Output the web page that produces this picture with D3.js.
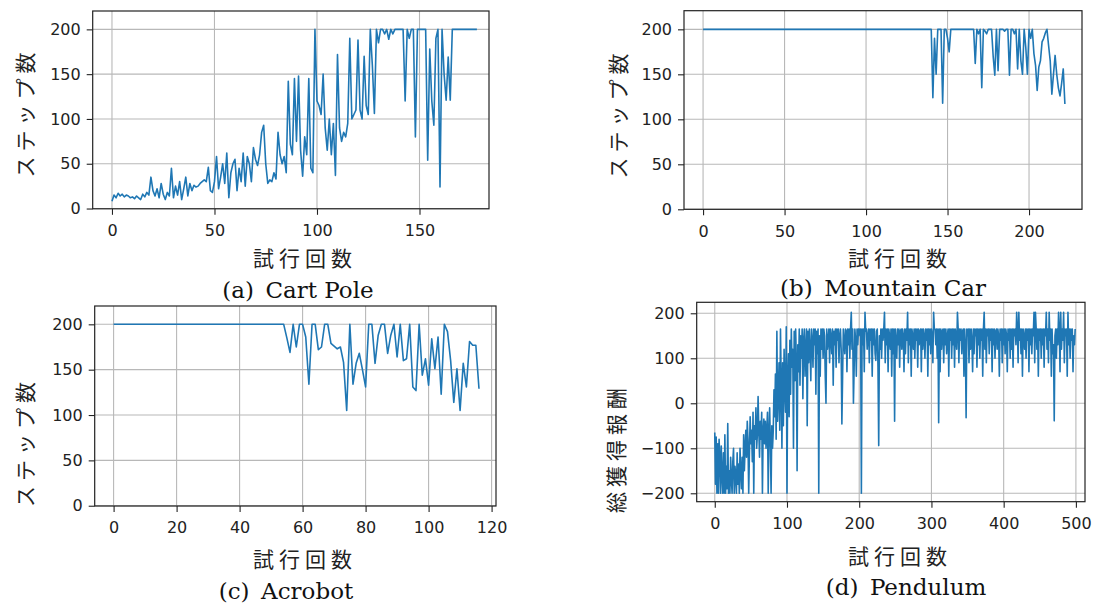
<!DOCTYPE html>
<html><head><meta charset="utf-8">
<script src="https://cdn.jsdelivr.net/npm/d3@7"></script>
<style>body{margin:0;background:#fff}svg{display:block}</style>
</head><body>
<svg id="chart" width="1095" height="603"></svg>
<script>
// ---------- data ----------
const cartPoleSteps=[8,15,12,17,14,16,13,15,14,12,
13,11,14,12,10,16,13,18,15,35,
20,14,22,12,28,16,10,18,14,45,
12,25,15,30,10,22,35,14,28,20,
26,24,25,28,30,32,30,46,20,18,
30,58,22,35,50,28,62,12,40,50,
55,20,45,30,62,25,58,50,30,68,
55,48,60,85,93,50,28,32,30,40,
33,85,60,50,58,40,142,72,60,145,
75,148,65,36,80,60,145,45,40,200,
120,115,105,150,90,65,100,60,95,37,
172,90,75,85,80,95,190,100,105,110,
188,110,100,170,115,105,200,160,106,200,
185,200,200,195,200,189,200,195,200,200,
200,200,200,120,200,190,200,200,80,200,
200,200,200,200,54,178,120,93,190,200,
24,200,150,121,169,121,200,200,200,200,
200,200,200,200,200,200,200,200,200];

const mountainCarSteps=[200,200,200,200,200,200,200,200,200,200,
200,200,200,200,200,200,200,200,200,200,
200,200,200,200,200,200,200,200,200,200,
200,200,200,200,200,200,200,200,200,200,
200,200,200,200,200,200,200,200,200,200,
200,200,200,200,200,200,200,200,200,200,
200,200,200,200,200,200,200,200,200,200,
200,200,200,200,200,200,200,200,200,200,
200,200,200,200,200,200,200,200,200,200,
200,200,200,200,200,200,200,200,200,200,
200,200,200,200,200,200,200,200,200,200,
200,200,200,200,200,200,200,200,200,200,
200,200,200,200,200,200,200,200,200,200,
200,200,200,200,200,200,200,200,200,200,
200,124,190,150,200,200,200,118,200,200,
190,175,200,200,200,200,200,200,200,200,
200,200,200,200,200,200,200,162,200,195,
200,135,200,198,195,200,200,200,170,149,
200,154,200,200,200,198,200,200,149,200,
200,195,200,156,200,165,150,200,180,150,
200,190,200,173,160,132,158,165,186,190,
196,200,182,165,128,150,171,150,135,126,
140,156,117];

const acrobotSteps=[200,200,200,200,200,200,200,200,200,200,
200,200,200,200,200,200,200,200,200,200,
200,200,200,200,200,200,200,200,200,200,
200,200,200,200,200,200,200,200,200,200,
200,200,200,200,200,200,200,200,200,200,
200,200,200,200,
200,185,169,200,175,200,200,186,134,200,
200,172,175,200,200,179,176,173,175,158,
105,200,134,157,168,150,131,200,200,157,
188,200,200,168,188,200,164,200,160,162,
200,131,127,200,144,162,133,184,151,186,
123,200,192,160,114,151,105,157,131,181,
177,177,129];

const pendulumReward=[-65,-180,-75,-200,-90,-200,-80,-120,-200,-95,
-160,-200,-110,-200,-70,-200,-140,-190,-45,-200,
-150,-200,-120,-170,-200,-130,-100,-200,-140,-160,
-200,-110,-180,-135,-200,-100,-150,-190,-120,-200,
-70,-150,-100,-60,-120,-40,-80,-200,-110,-30,
-90,-60,-130,-20,-200,-50,-80,-10,-100,-70,
15,-60,-120,-40,-80,-20,-200,-60,-35,-90,
-40,-100,-60,-20,-200,-70,-10,-90,-200,-50,
-100,-60,30,-30,65,-80,160,-40,20,90,
-60,165,40,-100,90,-50,120,30,-20,170,
-200,60,110,-30,140,20,165,80,120,-100,
160,50,165,90,-150,130,70,165,40,150,
100,165,10,140,165,60,120,165,-50,160,
90,165,120,50,165,140,80,165,130,165,
20,160,110,165,-200,150,60,165,120,165,
100,165,150,60,0,165,120,140,165,90,
165,150,110,165,40,160,130,165,80,165,
140,165,90,150,165,120,-46,60,165,140,
110,165,160,70,165,130,165,100,165,202,
120,165,0,80,165,140,60,165,130,165,
165,150,165,-200,165,130,165,70,202,160,
165,120,150,165,90,165,140,165,60,165,
130,165,110,95,160,165,80,-94,150,120,
165,100,165,140,165,202,90,165,130,165,
70,165,150,120,165,60,165,110,165,-40,
165,140,100,165,130,165,80,160,165,120,
165,150,70,165,110,165,140,202,90,165,
130,165,60,165,150,120,165,100,165,140,
165,80,165,130,160,165,70,165,120,165,
150,100,165,140,165,60,165,130,165,110,
165,150,90,202,165,165,130,165,100,165,
-43,165,70,165,120,160,165,90,165,130,
165,110,150,165,60,165,140,165,100,165,
130,165,80,165,150,120,202,165,90,165,
140,165,110,160,165,60,165,130,-32,165,
150,165,90,165,120,165,140,70,165,110,
165,150,165,80,165,130,165,100,165,140,
165,60,165,202,120,165,90,165,150,165,
110,165,140,165,70,165,130,165,100,160,
165,120,165,150,60,165,140,165,90,165,
130,165,110,165,150,70,165,140,165,100,
165,120,165,80,165,150,165,130,202,165,
90,202,140,165,110,165,60,165,150,120,
165,100,165,140,165,70,165,130,165,110,
165,150,202,90,202,165,120,165,60,165,
140,165,100,165,130,165,80,165,150,202,
120,165,90,202,140,165,60,165,110,130,
-39,150,165,100,165,130,202,165,70,202,
120,165,140,202,90,165,150,165,60,202,
130,165,100,165,140,165,70,150,130,165];

const stepTicks=[0,50,100,150,200];
const cartPoleXTicks=[0,50,100,150];
const mountainCarXTicks=[0,50,100,150,200];
const acrobotXTicks=[0,20,40,60,80,100,120];
const pendulumXTicks=[0,100,200,300,400,500];
const rewardTicks=[-200,-100,0,100,200];
const xLabel="試行回数";
const stepLabel="ステップ数";
const rewardLabel="総獲得報酬";
const titles=["(a)\u2002Cart Pole","(b)\u2002Mountain Car","(c)\u2002Acrobot","(d)\u2002Pendulum"];

// ---------- layout ----------
const panels=[
 {data:cartPoleSteps,box:[92.7,11,489,208.8],xd:[-9.4,183.9],yd:[-0.3,220.5],xt:cartPoleXTicks,yt:stepTicks,yl:stepLabel,ylc:[24,112.5],xlc:[305,256.5],title:titles[0],tc:[298,290]},
 {data:mountainCarSteps,box:[684,10.7,1082,209.3],xd:[-11.7,232.5],yd:[0,220.7],xt:mountainCarXTicks,yt:stepTicks,yl:stepLabel,ylc:[617,113.5],xlc:[900,256.5],title:titles[1],tc:[883,287.5]},
 {data:acrobotSteps,box:[94.7,306,496,506],xd:[-6.0,121.4],yd:[-0.3,220.2],xt:acrobotXTicks,yt:stepTicks,yl:stepLabel,ylc:[24,442],xlc:[305,558],title:titles[2],tc:[286,591]},
 {data:pendulumReward,box:[696.7,302.3,1085,501.7],xd:[-25,512.6],yd:[-218.7,224.4],xt:pendulumXTicks,yt:rewardTicks,yl:rewardLabel,ylc:[615,448],xlc:[900,555],title:titles[3],tc:[906,587]}
];

const svg=d3.select("#chart");
svg.append("rect").attr("width",1095).attr("height",603).attr("fill","#fff");
const ink="#222";

panels.forEach(p=>{
  const [x0,y0,x1,y1]=p.box;
  const x=d3.scaleLinear().domain(p.xd).range([x0,x1]);
  const y=d3.scaleLinear().domain(p.yd).range([y1,y0]);
  const g=svg.append("g");
  // grid
  g.append("g").selectAll("line").data(p.xt).join("line")
    .attr("x1",d=>x(d)).attr("x2",d=>x(d)).attr("y1",y0).attr("y2",y1)
    .attr("stroke","#b8b8b8").attr("stroke-width",1.1);
  g.append("g").selectAll("line").data(p.yt).join("line")
    .attr("y1",d=>y(d)).attr("y2",d=>y(d)).attr("x1",x0).attr("x2",x1)
    .attr("stroke","#b8b8b8").attr("stroke-width",1.1);
  // line
  const line=d3.line().x((d,i)=>x(i)).y(d=>y(d));
  g.append("path").datum(p.data).attr("d",line)
    .attr("fill","none").attr("stroke","#1f77b4").attr("stroke-width",1.6)
    .attr("stroke-linejoin","round");
  // frame
  g.append("rect").attr("x",x0).attr("y",y0).attr("width",x1-x0).attr("height",y1-y0)
    .attr("fill","none").attr("stroke",ink).attr("stroke-width",1.2);
  // axes
  const ax=g.append("g").attr("transform",`translate(0,${y1})`)
    .call(d3.axisBottom(x).tickValues(p.xt).tickSize(6).tickPadding(10).tickFormat(d3.format("d")));
  const ay=g.append("g").attr("transform",`translate(${x0},0)`)
    .call(d3.axisLeft(y).tickValues(p.yt).tickSize(6).tickPadding(6).tickFormat(d3.format("d")));
  [ax,ay].forEach(a=>{
    a.select(".domain").remove();
    a.selectAll(".tick line").attr("stroke",ink).attr("stroke-width",1.1);
    a.selectAll(".tick text").attr("fill",ink).style("font-family","'DejaVu Sans'").style("font-size","16px");
  });
  // labels
  g.append("text").attr("x",p.xlc[0]).attr("y",p.xlc[1]).attr("text-anchor","middle")
    .attr("dominant-baseline","central").attr("fill",ink)
    .style("font-family","'Noto Sans CJK JP'").style("font-size","21px").style("letter-spacing","5px")
    .text(xLabel);
  g.append("text").attr("transform",`translate(${p.ylc[0]},${p.ylc[1]}) rotate(-90)`)
    .attr("text-anchor","middle").attr("dominant-baseline","central").attr("fill",ink)
    .style("font-family","'Noto Sans CJK JP'").style("font-size","21px").style("letter-spacing","5px")
    .text(p.yl);
  g.append("text").attr("x",p.tc[0]).attr("y",p.tc[1]).attr("text-anchor","middle")
    .attr("dominant-baseline","central").attr("fill","#111")
    .style("font-family","'DejaVu Serif'").style("font-size","23px")
    .text(p.title);
});
</script>
</body></html>
